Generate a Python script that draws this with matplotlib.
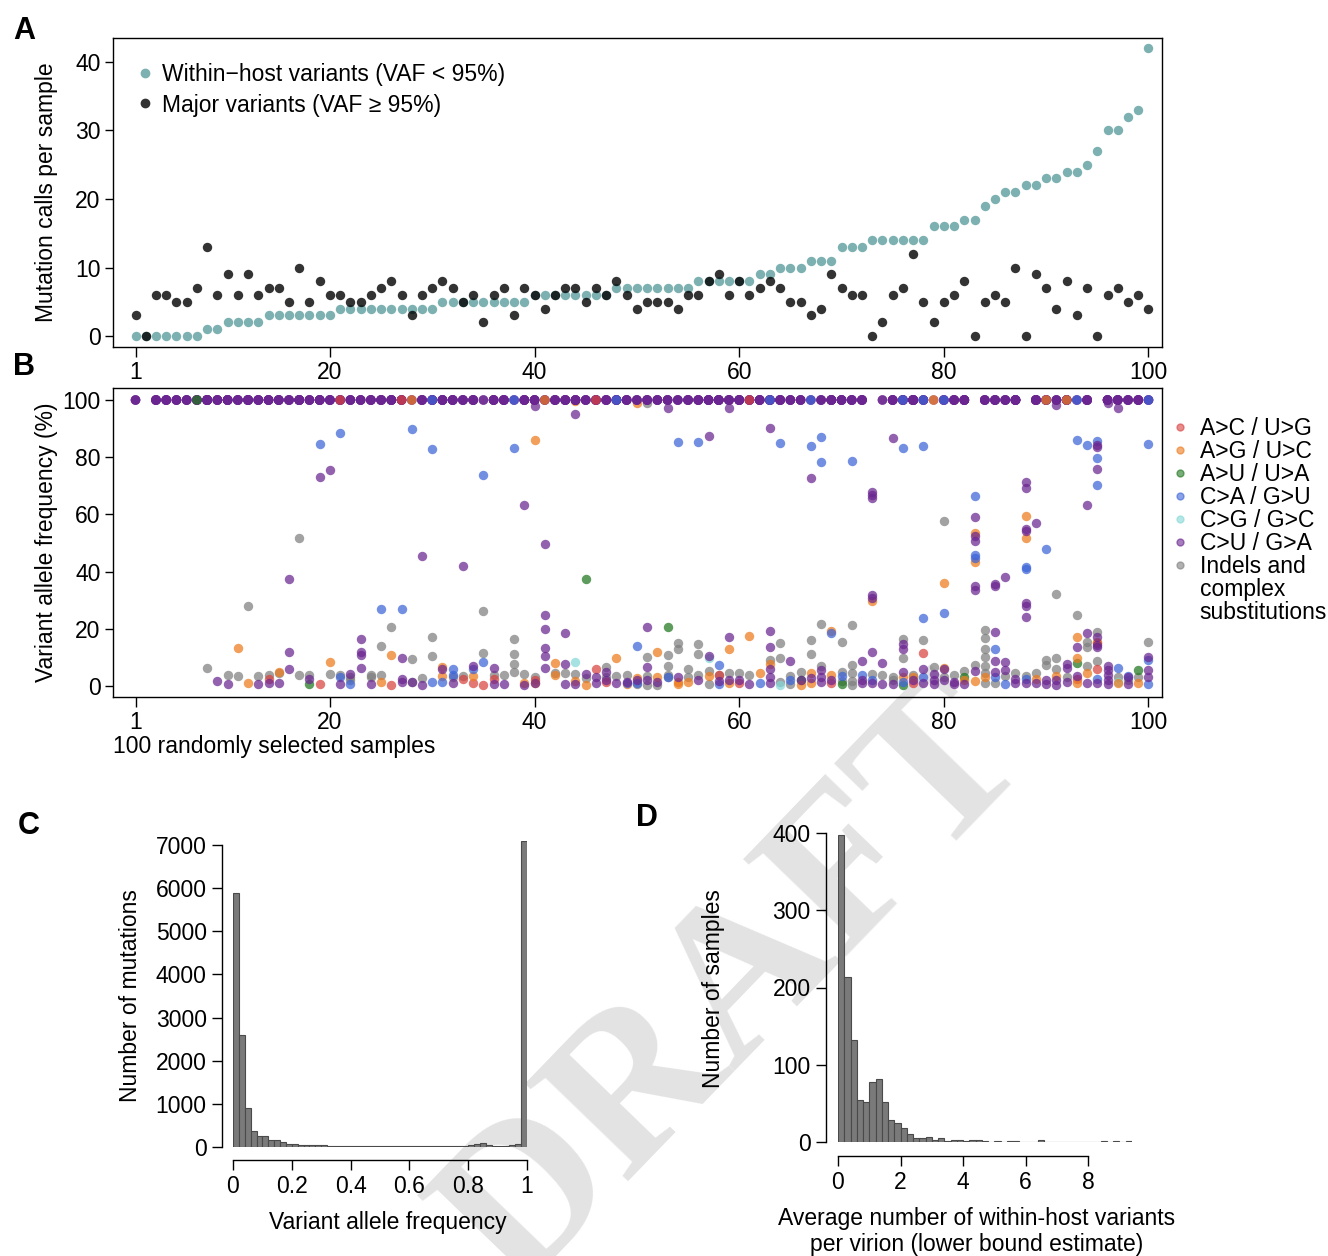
import numpy as np
import matplotlib.pyplot as plt
from matplotlib.lines import Line2D

plt.rcParams['font.family'] = ['Liberation Sans', 'DejaVu Sans']
plt.rcParams['font.size'] = 16.5

W, H = 1328, 1256

# ---- panel A: mutation calls per sample (100 samples, sorted) ----
within_host = [0, 0, 0, 0, 0, 0, 0, 1, 1, 2, 2, 2, 2, 3, 3, 3, 3, 3, 3, 3,
               4, 4, 4, 4, 4, 4, 4, 4, 4, 4, 5, 5, 5, 5, 5, 5, 5, 5, 5, 6,
               6, 6, 6, 6, 6, 6, 6, 7, 7, 7, 7, 7, 7, 7, 7, 8, 8, 8, 8, 8,
               8, 9, 9, 10, 10, 10, 11, 11, 11, 13, 13, 13, 14, 14, 14, 14, 14, 14, 16, 16,
               16, 17, 17, 19, 20, 21, 21, 22, 22, 23, 23, 24, 24, 25, 27, 30, 30, 32, 33, 42]
major = [3, 0, 6, 6, 5, 5, 7, 13, 6, 9, 6, 9, 6, 7, 7, 5, 10, 5, 8, 6,
         6, 5, 5, 6, 7, 8, 6, 3, 6, 7, 8, 7, 5, 6, 2, 6, 7, 3, 7, 6,
         4, 6, 7, 7, 5, 7, 6, 8, 6, 4, 5, 5, 5, 4, 6, 6, 8, 9, 6, 8,
         6, 7, 8, 7, 5, 5, 3, 4, 9, 7, 6, 6, 0, 2, 6, 7, 12, 5, 2, 5,
         6, 8, 0, 5, 6, 5, 10, 0, 9, 7, 4, 8, 3, 7, 0, 6, 7, 5, 6, 4]

# ---- panel B: variant allele frequencies (sample, VAF %) by mutation class ----
ac_points = [(14, 2.3), (19, 0.6), (26, 0.5), (33, 2.6), (34, 1.2), (35, 0.2), (36, 2.3),
             (40, 2.1), (46, 5.8), (47, 1.3), (58, 3.8), (60, 1.2), (69, 0.9), (77, 0.9),
             (78, 11.4), (93, 2.3), (95, 5.8), (95, 15.0)]
ag_points = [(11, 13.3), (12, 0.9), (15, 5.0), (20, 8.5), (25, 1.4), (26, 11.0), (31, 6.8),
             (31, 3.6), (34, 3.5), (39, 0.9), (40, 86.0), (40, 0.9), (42, 8.2), (42, 4.0),
             (44, 99.6), (44, 1.8), (45, 0.2), (48, 9.7), (49, 0.6), (50, 98.8), (50, 2.7),
             (52, 12.0), (52, 3.0), (54, 1.5), (54, 0.6), (55, 1.4), (57, 3.5), (59, 13.1),
             (59, 1.2), (61, 17.5), (62, 4.4), (63, 7.7), (66, 0.3), (67, 4.4), (67, 0.9),
             (69, 19.3), (69, 3.7), (73, 29.7), (76, 3.0), (77, 3.3), (80, 35.9), (80, 6.2),
             (82, 2.1), (83, 53.5), (83, 43.2), (83, 1.9), (84, 3.0), (88, 59.6), (88, 51.7),
             (89, 2.3), (91, 3.5), (93, 17.0), (93, 9.7), (93, 0.9), (94, 4.4), (95, 15.5),
             (97, 0.9), (99, 0.9)]
au_points = [(18, 0.8), (45, 37.5), (53, 20.5), (66, 2.1), (70, 0.7), (76, 0.3), (82, 3.0),
             (93, 8.2), (99, 5.6)]
ca_points = [(19, 84.5), (21, 88.3), (21, 3.0), (22, 0.8), (25, 26.8), (27, 26.8), (28, 89.7),
             (30, 82.9), (30, 1.4), (31, 1.4), (32, 6.1), (32, 3.8), (34, 5.9), (35, 73.7),
             (35, 8.3), (38, 83.3), (49, 1.2), (50, 14.1), (50, 1.0), (53, 3.0), (54, 85.2),
             (56, 85.3), (58, 7.2), (58, 0.6), (62, 1.2), (64, 85.1), (65, 2.1), (67, 83.9),
             (68, 86.9), (68, 78.3), (69, 18.4), (70, 3.5), (71, 78.6), (72, 3.8), (73, 2.1),
             (76, 83.3), (76, 1.5), (78, 83.9), (78, 23.8), (78, 3.0), (80, 25.4), (83, 66.4),
             (83, 45.8), (83, 44.9), (85, 12.8), (85, 3.0), (86, 0.8), (88, 41.7), (88, 41.0),
             (88, 2.3), (90, 47.8), (93, 86.1), (94, 84.3), (95, 85.8), (95, 79.8), (95, 70.3),
             (95, 2.3), (97, 6.2), (98, 3.5), (100, 84.6), (100, 9.1), (100, 0.8)]
cg_points = [(44, 8.5), (57, 9.7), (64, 0.3), (97, 1.5)]
cu_points = [(9, 1.7), (10, 0.6), (13, 0.6), (14, 0.9), (15, 0.9), (16, 37.3), (16, 12.0),
             (16, 6.1), (18, 2.3), (19, 73.1), (20, 75.4), (21, 0.8), (22, 4.3), (23, 16.6),
             (23, 12.0), (23, 11.0), (23, 6.4), (24, 0.8), (27, 9.9), (27, 2.6), (27, 1.4),
             (28, 1.4), (29, 45.3), (29, 0.5), (31, 6.1), (32, 0.9), (33, 42.0), (34, 7.0),
             (36, 6.4), (36, 0.7), (37, 0.8), (39, 63.2), (39, 0.4), (40, 98.0), (40, 1.2),
             (41, 49.5), (41, 24.8), (41, 19.9), (41, 13.2), (41, 10.5), (41, 6.3), (43, 18.6),
             (43, 7.7), (43, 0.6), (44, 95.1), (44, 0.6), (45, 4.2), (46, 3.0), (46, 1.2),
             (47, 4.9), (47, 2.0), (48, 1.2), (49, 1.5), (50, 2.0), (51, 20.6), (51, 6.5),
             (51, 2.0), (52, 1.5), (53, 97.1), (54, 3.0), (56, 2.1), (57, 87.4), (57, 10.5),
             (58, 1.8), (59, 97.1), (59, 17.2), (59, 2.1), (60, 2.1), (61, 0.7), (63, 90.3),
             (63, 19.1), (63, 13.8), (63, 5.9), (63, 3.0), (63, 1.2), (65, 8.6), (66, 2.0),
             (67, 72.8), (67, 2.7), (68, 5.6), (68, 3.3), (68, 1.5), (69, 2.1), (72, 8.6),
             (72, 2.1), (72, 1.2), (73, 67.9), (73, 66.7), (73, 65.6), (73, 31.8), (73, 30.7),
             (73, 11.9), (73, 0.9), (74, 8.2), (74, 0.7), (75, 86.7), (75, 0.7), (76, 14.7),
             (76, 12.8), (76, 5.0), (77, 2.1), (78, 5.8), (78, 0.9), (79, 4.2), (79, 2.1),
             (79, 0.7), (80, 5.8), (80, 2.1), (81, 1.5), (81, 0.7), (82, 0.7), (83, 59.0),
             (83, 52.4), (83, 50.7), (83, 35.0), (83, 33.6), (83, 5.2), (85, 35.7), (85, 34.9),
             (85, 19.0), (85, 8.9), (85, 5.0), (86, 38.0), (86, 8.3), (86, 5.6), (87, 2.3),
             (87, 0.9), (88, 71.3), (88, 69.1), (88, 54.8), (88, 54.2), (88, 28.9), (88, 27.8),
             (88, 24.0), (88, 0.9), (89, 57.0), (89, 0.9), (90, 2.1), (90, 0.7), (91, 98.3),
             (91, 2.1), (91, 0.3), (92, 7.7), (92, 6.2), (92, 1.5), (93, 13.5), (93, 3.5),
             (94, 63.4), (94, 18.6), (94, 0.9), (95, 84.3), (95, 83.5), (95, 75.9), (95, 17.2),
             (95, 14.3), (95, 13.5), (95, 0.9), (96, 98.8), (96, 7.0), (96, 5.6), (96, 3.8),
             (96, 2.1), (96, 0.7), (97, 97.3), (98, 3.0), (98, 0.7), (100, 10.0), (100, 5.6),
             (100, 3.3)]
indel_points = [(8, 6.2), (10, 3.8), (11, 3.6), (12, 28.1), (13, 3.6), (14, 3.8), (15, 4.4),
                (17, 51.9), (17, 3.8), (18, 3.8), (20, 4.2), (21, 3.7), (22, 3.0), (22, 2.0),
                (24, 3.7), (24, 3.0), (25, 14.0), (25, 3.7), (26, 20.6), (28, 9.4), (28, 1.4),
                (29, 2.7), (30, 17.1), (30, 10.5), (32, 3.0), (33, 3.6), (35, 26.3), (35, 11.7),
                (36, 3.8), (37, 3.7), (38, 16.5), (38, 11.2), (38, 7.7), (38, 5.0), (39, 4.2),
                (40, 3.3), (42, 4.4), (43, 4.5), (44, 4.1), (45, 2.9), (47, 6.8), (47, 3.2),
                (48, 3.5), (49, 3.8), (50, 0.8), (51, 98.8), (51, 10.0), (51, 3.5), (51, 0.5),
                (52, 0.3), (53, 10.8), (53, 7.0), (53, 3.7), (53, 3.0), (54, 14.9), (54, 12.8),
                (55, 5.9), (55, 3.0), (56, 14.6), (56, 11.1), (56, 3.8), (57, 5.2), (57, 0.6),
                (58, 3.8), (59, 4.7), (60, 4.4), (61, 3.8), (63, 9.1), (64, 14.9), (64, 9.7),
                (64, 1.5), (65, 3.5), (65, 0.6), (66, 4.9), (67, 16.1), (67, 11.1), (68, 21.7),
                (68, 7.0), (70, 15.4), (70, 5.0), (70, 1.9), (71, 21.3), (71, 7.2), (71, 4.4),
                (71, 1.9), (71, 0.3), (73, 4.2), (74, 3.8), (75, 3.0), (75, 2.1), (76, 16.5),
                (76, 9.7), (77, 3.8), (78, 16.1), (79, 6.5), (80, 57.7), (80, 3.0), (81, 3.7),
                (82, 5.2), (83, 7.3), (84, 19.6), (84, 16.7), (84, 12.9), (84, 10.3), (84, 7.0),
                (84, 4.4), (84, 1.2), (85, 0.9), (86, 3.5), (87, 4.4), (88, 3.5), (89, 4.7),
                (90, 9.1), (90, 7.3), (91, 32.2), (91, 9.7), (91, 5.8), (92, 3.0), (93, 24.9),
                (94, 15.5), (94, 13.5), (94, 7.0), (95, 19.0), (95, 8.9), (97, 3.0), (98, 2.1),
                (99, 3.0), (100, 15.4)]
# class of the uppermost fixed (VAF = 100%) call, where it is not C>U
top_class = {7: 'AU', 21: 'AC', 27: 'AC', 28: 'AG', 30: 'CA', 38: 'CA', 41: 'AG', 46: 'AC',
             48: 'CA', 61: 'AC', 63: 'CA', 67: 'CA', 76: 'CA', 78: 'CA', 79: 'AG', 80: 'CA',
             90: 'AG', 92: 'AG', 93: 'CA', 100: 'CA'}

classes = ['AC', 'AG', 'AU', 'CA', 'CG', 'CU', 'ID']
class_labels = ['A>C / U>G', 'A>G / U>C', 'A>U / U>A', 'C>A / G>U', 'C>G / G>C',
                'C>U / G>A', 'Indels and']
indel_label_rest = ['complex', 'substitutions']
class_colors = {'AC': '#D8423F', 'AG': '#EC7A1C', 'AU': '#1E761E', 'CA': '#3C64D8',
                'CG': '#84D8D8', 'CU': '#6A2590', 'ID': '#7E7E7E'}

# ---- panel C: VAF histogram (bins of 0.02) ----
vaf_counts = [5880, 2590, 915, 360, 245, 250, 170, 160, 110, 80,
              60, 45, 40, 50, 35, 40, 30, 28, 20, 18,
              20, 18, 25, 15, 18, 15, 15, 14, 12, 15,
              12, 14, 12, 15, 14, 15, 14, 18, 20, 25,
              45, 75, 95, 40, 25, 20, 20, 35, 65, 7100]

# ---- panel D: within-host variants per virion (bins of 0.2) ----
virion_counts = [397, 213, 132, 54, 52, 78, 82, 52, 28, 24,
                 18, 11, 5, 5, 7, 3, 5, 1, 2, 2,
                 1, 2, 2, 1, 0, 1, 0, 1, 1, 0,
                 0, 0, 3, 0, 0, 0, 0, 0, 0, 0,
                 0, 0, 1, 0, 1, 0, 1]


def px_axes(fig, left, top, right, bottom):
    ax = fig.add_axes([left / W, 1 - bottom / H, (right - left) / W, (bottom - top) / H])
    ax.patch.set_alpha(0)
    return ax


fig = plt.figure(figsize=(W / 100, H / 100), dpi=100)

# watermark
fig.text(738 / W, 1 - 990 / H, 'DRAFT', family=['Liberation Serif', 'DejaVu Serif'], weight='bold',
         fontsize=156, color='#E3E3E3', rotation=46, ha='center', va='center', zorder=-1)

samples = np.arange(1, 101)

# ---------------- A ----------------
axA = px_axes(fig, 113, 38, 1162, 347)
axA.scatter(samples, within_host, s=46, color='#7DB1B1', lw=0, zorder=2)
axA.scatter(samples, major, s=46, color='black', alpha=0.8, lw=0, zorder=3)
axA.set_xlim(-1.2, 101.32)
axA.set_ylim(-1.6, 43.5)
axA.set_xticks([1, 20, 40, 60, 80, 100])
axA.set_yticks([0, 10, 20, 30, 40])
axA.tick_params(axis='x', length=7, width=1, pad=3)
axA.tick_params(axis='y', length=6, width=1, pad=3)
axA.set_ylabel('Mutation calls per sample', va='center')
axA.yaxis.set_label_coords(-0.063, 0.5)
hA = [Line2D([], [], ls='', marker='o', ms=6, color='#7DB1B1'),
      Line2D([], [], ls='', marker='o', ms=6, color='#333333')]
axA.legend(hA, ['Within\u2212host variants (VAF < 95%)', 'Major variants (VAF \u2265 95%)'],
           loc='upper left', bbox_to_anchor=(0.024, 0.92), frameon=False, handlelength=0.6,
           handletextpad=0.42, labelspacing=0.34, borderaxespad=0, borderpad=0)

# ---------------- B ----------------
axB = px_axes(fig, 113, 388, 1162, 697)
point_sets = {'ID': indel_points, 'CG': cg_points, 'AU': au_points, 'AC': ac_points,
              'AG': ag_points, 'CA': ca_points, 'CU': cu_points}
for cls in ['ID', 'CG', 'AU', 'AC', 'AG', 'CA', 'CU']:
    pts = np.array(point_sets[cls])
    axB.scatter(pts[:, 0], pts[:, 1], s=46, color=class_colors[cls], alpha=0.72, lw=0, zorder=2)

# fixed calls at 100%: one point per major variant, C>U underneath
top_x, top_c = [], []
for s, n in zip(samples, major):
    for k in range(n):
        top_x.append(s)
        top_c.append(class_colors[top_class.get(s, 'CU')] if k == n - 1 else class_colors['CU'])
axB.scatter(top_x, np.full(len(top_x), 100.0), s=48, c=top_c, alpha=0.72, lw=0, zorder=3)

axB.set_xlim(-1.2, 101.32)
axB.set_ylim(-3.85, 104.2)
axB.set_xticks([1, 20, 40, 60, 80, 100])
axB.set_yticks([0, 20, 40, 60, 80, 100])
axB.tick_params(axis='x', length=7, width=1, pad=3)
axB.tick_params(axis='y', length=6, width=1, pad=3)
axB.set_ylabel('Variant allele frequency (%)', va='center')
axB.yaxis.set_label_coords(-0.063, 0.5)
axB.set_xlabel('100 randomly selected samples', ha='left', va='center')
axB.xaxis.set_label_coords(0.0, -0.159)
hB = [Line2D([], [], ls='', marker='o', ms=5, color=class_colors[c], alpha=0.6) for c in classes]
hB += [Line2D([], [], ls='', marker='') for _ in indel_label_rest]
axB.legend(hB, class_labels + indel_label_rest, loc='upper left', bbox_to_anchor=(1.012, 0.906),
           frameon=False, handlelength=0.5, handletextpad=0.6, labelspacing=0.0,
           borderaxespad=0, borderpad=0)

for spine in list(axA.spines.values()) + list(axB.spines.values()):
    spine.set_linewidth(1.0)

# ---------------- C ----------------
axC = px_axes(fig, 233, 840.7, 527, 1147)
edgesC = np.arange(len(vaf_counts)) * 0.02
axC.bar(edgesC, vaf_counts, width=0.02, align='edge', color='#7A7A7A', edgecolor='#4A4A4A', lw=0.8)
axC.set_xlim(0, 1)
axC.set_ylim(0, 7100)
axC.set_xticks([0, 0.2, 0.4, 0.6, 0.8, 1.0])
axC.set_xticklabels(['0', '0.2', '0.4', '0.6', '0.8', '1'])
axC.set_yticks(range(0, 7001, 1000))
axC.set_ylabel('Number of mutations', va='center')
axC.yaxis.set_label_coords(-0.35, 0.496)
axC.set_xlabel('Variant allele frequency', va='center')
axC.xaxis.set_label_coords(0.527, -0.245)

# ---------------- D ----------------
axD = px_axes(fig, 838, 833, 1131.75, 1142)
edgesD = np.arange(len(virion_counts)) * 0.2
axD.bar(edgesD, virion_counts, width=0.2, align='edge', color='#7A7A7A', edgecolor='#4A4A4A', lw=0.8)
axD.set_xlim(0, 9.4)
axD.set_ylim(0, 400)
axD.set_xticks([0, 2, 4, 6, 8])
axD.set_yticks([0, 100, 200, 300, 400])
axD.set_ylabel('Number of samples', va='center')
axD.yaxis.set_label_coords(-0.4255, 0.495)
axD.set_xlabel('Average number of within-host variants\nper virion (lower bound estimate)',
               linespacing=1.2, va='center')
axD.xaxis.set_label_coords(0.473, -0.29)

for ax, lim_x, lim_y, out_l, out_b in [(axC, (0, 1), (0, 7000), 7.9, 9.4),
                                       (axD, (0, 8), (0, 400), 8.6, 10.0)]:
    ax.spines['top'].set_visible(False)
    ax.spines['right'].set_visible(False)
    ax.spines['left'].set_position(('outward', out_l))
    ax.spines['bottom'].set_position(('outward', out_b))
    ax.spines['left'].set_bounds(*lim_y)
    ax.spines['bottom'].set_bounds(*lim_x)
    ax.spines['left'].set_linewidth(1.0)
    ax.spines['bottom'].set_linewidth(1.0)
    ax.tick_params(length=7, width=1, pad=4)

# panel letters
for letter, x, y in [('A', 24, 31), ('B', 24, 367), ('C', 29, 826), ('D', 647, 818)]:
    fig.text(x / W, 1 - y / H, letter, fontsize=22, weight='bold', ha='center', va='center')

fig.savefig('out.png', dpi=100)
